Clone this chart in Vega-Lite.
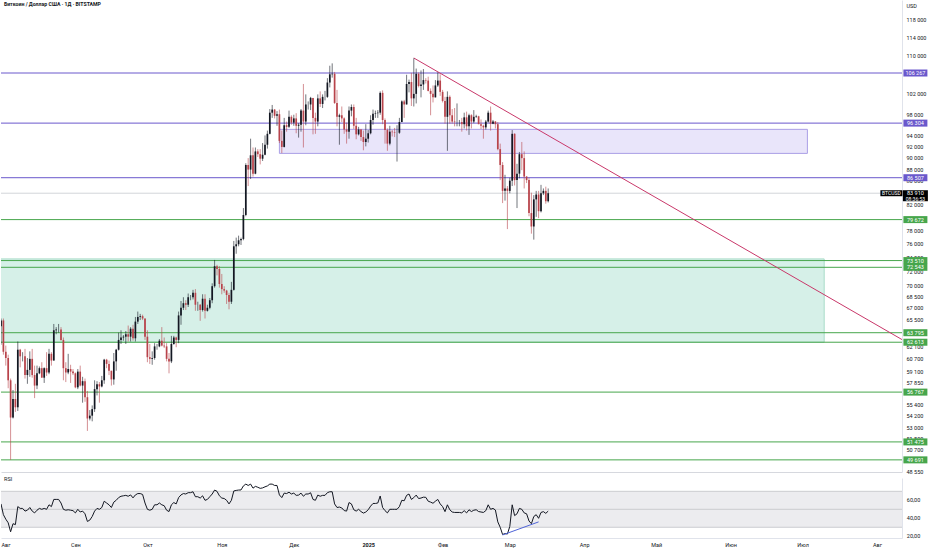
{
"$schema":"https://vega.github.io/schema/vega-lite/v6.json",
"padding":0,
"spacing":0,
"background":"#ffffff",
"config":{"font":"Roboto","view":{"stroke":null},"axis":{"labelOverlap":false},"locale":{"number":{"decimal":",","thousands":" ","grouping":[3],"currency":["","$"]}}},
"resolve":{"scale":{"x":"independent","y":"independent","color":"independent"}},
"datasets":{
"zones":[{"x1":"2024-11-25","x2":"2025-07-03","p1":90740,"p2":95130,"k":"purple"},{"x1":"2024-07-01","x2":"2025-07-10","p1":62613,"p2":73750,"k":"green"}],
"levels":[{"p":106267,"k":"purple"},{"p":96304,"k":"purple"},{"p":86507,"k":"purple"},{"p":79672,"k":"green"},{"p":73510,"k":"green"},{"p":72543,"k":"green"},{"p":63795,"k":"green"},{"p":62613,"k":"green"},{"p":56767,"k":"green"},{"p":51475,"k":"green"},{"p":49691,"k":"green"}],
"cur":[{"p":83910,"sym":"BTCUSD","t":"08:36:53"}],
"trend":[{"d":"2025-01-20","p":109450},{"d":"2025-08-11T10:00:00Z","p":62940}],
"div":[{"d":"2025-02-26","r":21.5},{"d":"2025-03-13","r":36}],
"band":[{"lo":30,"hi":70}],
"rsilines":[{"v":70},{"v":50},{"v":30}],
"rsiticks":[{"v":60},{"v":40},{"v":20}],
"candles":[
{"d":"2024-08-01","o":64600,"h":65600,"l":62300,"c":65350,"r":56},
{"d":"2024-08-02","o":65350,"h":65600,"l":61100,"c":61450,"r":44},
{"d":"2024-08-03","o":61450,"h":62200,"l":59800,"c":60700,"r":39},
{"d":"2024-08-04","o":60700,"h":61100,"l":57200,"c":58100,"r":35},
{"d":"2024-08-05","o":58100,"h":58300,"l":49700,"c":54000,"r":25},
{"d":"2024-08-06","o":54000,"h":57000,"l":53900,"c":56000,"r":34},
{"d":"2024-08-07","o":56000,"h":57700,"l":54600,"c":55100,"r":33},
{"d":"2024-08-08","o":55100,"h":62700,"l":54700,"c":61700,"r":53},
{"d":"2024-08-09","o":61700,"h":61800,"l":59600,"c":60900,"r":51},
{"d":"2024-08-10","o":60900,"h":61400,"l":60300,"c":60900,"r":51},
{"d":"2024-08-11","o":60900,"h":61800,"l":58300,"c":58700,"r":48},
{"d":"2024-08-12","o":58700,"h":60700,"l":57700,"c":59300,"r":49},
{"d":"2024-08-13","o":59300,"h":61500,"l":58500,"c":60600,"r":52},
{"d":"2024-08-14","o":60600,"h":61800,"l":58400,"c":58700,"r":48},
{"d":"2024-08-15","o":58700,"h":59800,"l":56100,"c":57500,"r":46},
{"d":"2024-08-16","o":57500,"h":59800,"l":57100,"c":58900,"r":49},
{"d":"2024-08-17","o":58900,"h":59700,"l":58800,"c":59500,"r":51},
{"d":"2024-08-18","o":59500,"h":60200,"l":58400,"c":58400,"r":50},
{"d":"2024-08-19","o":58400,"h":59600,"l":57800,"c":59500,"r":51},
{"d":"2024-08-20","o":59500,"h":61400,"l":58600,"c":59000,"r":50},
{"d":"2024-08-21","o":59000,"h":61800,"l":58800,"c":61200,"r":55},
{"d":"2024-08-22","o":61200,"h":61400,"l":59800,"c":60400,"r":53},
{"d":"2024-08-23","o":60400,"h":64900,"l":60400,"c":64100,"r":61},
{"d":"2024-08-24","o":64100,"h":64500,"l":63600,"c":64200,"r":61},
{"d":"2024-08-25","o":64200,"h":64900,"l":63800,"c":64200,"r":61},
{"d":"2024-08-26","o":64200,"h":64500,"l":62800,"c":62900,"r":57},
{"d":"2024-08-27","o":62900,"h":63200,"l":58100,"c":59500,"r":50},
{"d":"2024-08-28","o":59500,"h":60200,"l":57900,"c":59000,"r":49},
{"d":"2024-08-29","o":59000,"h":61200,"l":58800,"c":59400,"r":49.5},
{"d":"2024-08-30","o":59400,"h":59900,"l":57800,"c":59100,"r":49},
{"d":"2024-08-31","o":59100,"h":59400,"l":58700,"c":58900,"r":48.5},
{"d":"2024-09-01","o":58900,"h":59000,"l":57200,"c":57300,"r":46},
{"d":"2024-09-02","o":57300,"h":59400,"l":57100,"c":59100,"r":50},
{"d":"2024-09-03","o":59100,"h":59800,"l":57400,"c":57500,"r":47},
{"d":"2024-09-04","o":57500,"h":58500,"l":55600,"c":58000,"r":48},
{"d":"2024-09-05","o":58000,"h":58300,"l":55700,"c":56200,"r":45},
{"d":"2024-09-06","o":56200,"h":56900,"l":52600,"c":53900,"r":36.5},
{"d":"2024-09-07","o":53900,"h":54800,"l":53700,"c":54200,"r":38},
{"d":"2024-09-08","o":54200,"h":55300,"l":53600,"c":54900,"r":42},
{"d":"2024-09-09","o":54900,"h":58100,"l":54600,"c":57100,"r":48},
{"d":"2024-09-10","o":57100,"h":58000,"l":56400,"c":57650,"r":51},
{"d":"2024-09-11","o":57650,"h":57900,"l":55600,"c":57400,"r":50},
{"d":"2024-09-12","o":57400,"h":58600,"l":57300,"c":58100,"r":52},
{"d":"2024-09-13","o":58100,"h":60600,"l":57700,"c":60500,"r":59},
{"d":"2024-09-14","o":60500,"h":60600,"l":59500,"c":60000,"r":57},
{"d":"2024-09-15","o":60000,"h":60400,"l":58700,"c":59200,"r":55},
{"d":"2024-09-16","o":59200,"h":59200,"l":57500,"c":58200,"r":52},
{"d":"2024-09-17","o":58200,"h":61300,"l":57600,"c":60300,"r":58},
{"d":"2024-09-18","o":60300,"h":61800,"l":59200,"c":61700,"r":60},
{"d":"2024-09-19","o":61700,"h":63800,"l":61600,"c":62900,"r":63},
{"d":"2024-09-20","o":62900,"h":64100,"l":62400,"c":63200,"r":64.5},
{"d":"2024-09-21","o":63200,"h":63500,"l":62800,"c":63300,"r":65},
{"d":"2024-09-22","o":63300,"h":64000,"l":62400,"c":63600,"r":65.5},
{"d":"2024-09-23","o":63600,"h":64700,"l":62700,"c":63300,"r":64.5},
{"d":"2024-09-24","o":63300,"h":64500,"l":62700,"c":64300,"r":66},
{"d":"2024-09-25","o":64300,"h":64800,"l":62800,"c":63100,"r":62.7},
{"d":"2024-09-26","o":63100,"h":65800,"l":62700,"c":65200,"r":66},
{"d":"2024-09-27","o":65200,"h":66500,"l":64900,"c":65800,"r":67.5},
{"d":"2024-09-28","o":65800,"h":66200,"l":65400,"c":65900,"r":67.5},
{"d":"2024-09-29","o":65900,"h":66100,"l":65400,"c":65600,"r":66.5},
{"d":"2024-09-30","o":65600,"h":65600,"l":62900,"c":63300,"r":57},
{"d":"2024-10-01","o":63300,"h":64100,"l":60200,"c":60800,"r":50},
{"d":"2024-10-02","o":60800,"h":62400,"l":60000,"c":60600,"r":49},
{"d":"2024-10-03","o":60600,"h":61500,"l":59900,"c":60700,"r":50},
{"d":"2024-10-04","o":60700,"h":62500,"l":60500,"c":62100,"r":55},
{"d":"2024-10-05","o":62100,"h":62400,"l":61700,"c":62100,"r":55},
{"d":"2024-10-06","o":62100,"h":63000,"l":62000,"c":62800,"r":57},
{"d":"2024-10-07","o":62800,"h":64500,"l":62100,"c":62200,"r":55},
{"d":"2024-10-08","o":62200,"h":63200,"l":61900,"c":62100,"r":54},
{"d":"2024-10-09","o":62100,"h":62500,"l":60300,"c":60600,"r":49},
{"d":"2024-10-10","o":60600,"h":61300,"l":58900,"c":60300,"r":47.5},
{"d":"2024-10-11","o":60300,"h":63400,"l":60100,"c":62400,"r":55},
{"d":"2024-10-12","o":62400,"h":63400,"l":62300,"c":63200,"r":57.5},
{"d":"2024-10-13","o":63200,"h":63300,"l":62000,"c":62900,"r":56},
{"d":"2024-10-14","o":62900,"h":66500,"l":62500,"c":66000,"r":63},
{"d":"2024-10-15","o":66000,"h":67900,"l":64800,"c":67000,"r":66},
{"d":"2024-10-16","o":67000,"h":68400,"l":66700,"c":67600,"r":67.5},
{"d":"2024-10-17","o":67600,"h":68000,"l":66700,"c":67400,"r":67},
{"d":"2024-10-18","o":67400,"h":68900,"l":67100,"c":68400,"r":68.5},
{"d":"2024-10-19","o":68400,"h":68700,"l":68000,"c":68400,"r":68.5},
{"d":"2024-10-20","o":68400,"h":69400,"l":68100,"c":69000,"r":69.5},
{"d":"2024-10-21","o":69000,"h":69500,"l":66600,"c":67400,"r":64},
{"d":"2024-10-22","o":67400,"h":67800,"l":66600,"c":67400,"r":64},
{"d":"2024-10-23","o":67400,"h":67500,"l":65300,"c":66700,"r":62.5},
{"d":"2024-10-24","o":66700,"h":68800,"l":66500,"c":68200,"r":65},
{"d":"2024-10-25","o":68200,"h":68800,"l":65600,"c":66600,"r":60},
{"d":"2024-10-26","o":66600,"h":67400,"l":66500,"c":67000,"r":61},
{"d":"2024-10-27","o":67000,"h":68300,"l":66800,"c":68000,"r":64},
{"d":"2024-10-28","o":68000,"h":70300,"l":67600,"c":69900,"r":67},
{"d":"2024-10-29","o":69900,"h":73600,"l":69700,"c":72700,"r":71.4},
{"d":"2024-10-30","o":72700,"h":72900,"l":71400,"c":72300,"r":70},
{"d":"2024-10-31","o":72300,"h":72700,"l":69700,"c":70200,"r":65},
{"d":"2024-11-01","o":70200,"h":71600,"l":68800,"c":69500,"r":62.5},
{"d":"2024-11-02","o":69500,"h":69900,"l":69000,"c":69300,"r":62},
{"d":"2024-11-03","o":69300,"h":69400,"l":67500,"c":68700,"r":60},
{"d":"2024-11-04","o":68700,"h":69000,"l":66800,"c":67800,"r":56},
{"d":"2024-11-05","o":67800,"h":70500,"l":67500,"c":69400,"r":60},
{"d":"2024-11-06","o":69400,"h":76400,"l":69300,"c":75600,"r":70.4},
{"d":"2024-11-07","o":75600,"h":76900,"l":74500,"c":75900,"r":71},
{"d":"2024-11-08","o":75900,"h":77200,"l":75600,"c":76500,"r":71.4},
{"d":"2024-11-09","o":76500,"h":76900,"l":75800,"c":76700,"r":71.5},
{"d":"2024-11-10","o":76700,"h":81500,"l":76500,"c":80400,"r":76},
{"d":"2024-11-11","o":80400,"h":89000,"l":80200,"c":88700,"r":78},
{"d":"2024-11-12","o":88700,"h":89900,"l":85100,"c":87900,"r":76.5},
{"d":"2024-11-13","o":87900,"h":93400,"l":86300,"c":90400,"r":78},
{"d":"2024-11-14","o":90400,"h":91800,"l":86700,"c":87200,"r":73.5},
{"d":"2024-11-15","o":87200,"h":91800,"l":87100,"c":91100,"r":75.5},
{"d":"2024-11-16","o":91100,"h":91500,"l":90100,"c":90600,"r":74.5},
{"d":"2024-11-17","o":90600,"h":91500,"l":88800,"c":89800,"r":73.3},
{"d":"2024-11-18","o":89800,"h":92600,"l":89400,"c":90500,"r":73.8},
{"d":"2024-11-19","o":90500,"h":94000,"l":90400,"c":92300,"r":75},
{"d":"2024-11-20","o":92300,"h":94900,"l":91600,"c":94300,"r":76},
{"d":"2024-11-21","o":94300,"h":99000,"l":94200,"c":98300,"r":78},
{"d":"2024-11-22","o":98300,"h":99800,"l":97300,"c":98900,"r":78},
{"d":"2024-11-23","o":98900,"h":99000,"l":97200,"c":97700,"r":76.5},
{"d":"2024-11-24","o":97700,"h":98600,"l":95800,"c":98000,"r":76.5},
{"d":"2024-11-25","o":98000,"h":98900,"l":92600,"c":93000,"r":66},
{"d":"2024-11-26","o":93000,"h":94900,"l":90800,"c":91900,"r":63},
{"d":"2024-11-27","o":91900,"h":97300,"l":91800,"c":95900,"r":68},
{"d":"2024-11-28","o":95900,"h":96600,"l":94700,"c":95600,"r":67.5},
{"d":"2024-11-29","o":95600,"h":98700,"l":95400,"c":97500,"r":69},
{"d":"2024-11-30","o":97500,"h":97800,"l":96000,"c":96400,"r":67},
{"d":"2024-12-01","o":96400,"h":97900,"l":95800,"c":97200,"r":68},
{"d":"2024-12-02","o":97200,"h":98200,"l":94400,"c":95800,"r":65.5},
{"d":"2024-12-03","o":95800,"h":96300,"l":93600,"c":96000,"r":65.8},
{"d":"2024-12-04","o":96000,"h":99000,"l":94700,"c":98700,"r":68},
{"d":"2024-12-05","o":98700,"h":104000,"l":91800,"c":96600,"r":64.5},
{"d":"2024-12-06","o":96600,"h":101900,"l":95900,"c":99900,"r":67},
{"d":"2024-12-07","o":99900,"h":100500,"l":98900,"c":99900,"r":67},
{"d":"2024-12-08","o":99900,"h":101400,"l":98800,"c":101200,"r":68.4},
{"d":"2024-12-09","o":101200,"h":101200,"l":94200,"c":97300,"r":61},
{"d":"2024-12-10","o":97300,"h":98300,"l":94300,"c":96600,"r":60},
{"d":"2024-12-11","o":96600,"h":101900,"l":95700,"c":101100,"r":65.8},
{"d":"2024-12-12","o":101100,"h":102500,"l":99400,"c":100000,"r":64.5},
{"d":"2024-12-13","o":100000,"h":101900,"l":99200,"c":101400,"r":65.5},
{"d":"2024-12-14","o":101400,"h":102600,"l":100700,"c":101400,"r":65.5},
{"d":"2024-12-15","o":101400,"h":105200,"l":101200,"c":104300,"r":68.5},
{"d":"2024-12-16","o":104300,"h":107800,"l":103300,"c":106000,"r":69.5},
{"d":"2024-12-17","o":106000,"h":108300,"l":105300,"c":106100,"r":69.5},
{"d":"2024-12-18","o":106100,"h":106500,"l":100000,"c":100200,"r":56},
{"d":"2024-12-19","o":100200,"h":102800,"l":95700,"c":97500,"r":52},
{"d":"2024-12-20","o":97500,"h":98100,"l":92300,"c":97800,"r":52.5},
{"d":"2024-12-21","o":97800,"h":99500,"l":96500,"c":97200,"r":51.5},
{"d":"2024-12-22","o":97200,"h":97400,"l":94300,"c":95100,"r":48.6},
{"d":"2024-12-23","o":95100,"h":96400,"l":92500,"c":94700,"r":48},
{"d":"2024-12-24","o":94700,"h":99500,"l":93400,"c":98700,"r":57.5},
{"d":"2024-12-25","o":98700,"h":99900,"l":97600,"c":99400,"r":56},
{"d":"2024-12-26","o":99400,"h":99900,"l":95200,"c":95800,"r":49.5},
{"d":"2024-12-27","o":95800,"h":97300,"l":93300,"c":94200,"r":48},
{"d":"2024-12-28","o":94200,"h":95600,"l":94000,"c":95100,"r":50},
{"d":"2024-12-29","o":95100,"h":95200,"l":93000,"c":93700,"r":47.5},
{"d":"2024-12-30","o":93700,"h":94900,"l":91300,"c":92800,"r":45.8},
{"d":"2024-12-31","o":92800,"h":96100,"l":92000,"c":93400,"r":47},
{"d":"2025-01-01","o":93400,"h":95000,"l":92700,"c":94400,"r":49.5},
{"d":"2025-01-02","o":94400,"h":97800,"l":94200,"c":96900,"r":53.5},
{"d":"2025-01-03","o":96900,"h":98900,"l":96000,"c":98100,"r":56.5},
{"d":"2025-01-04","o":98100,"h":98700,"l":97300,"c":98200,"r":56.5},
{"d":"2025-01-05","o":98200,"h":98800,"l":97300,"c":98300,"r":57},
{"d":"2025-01-06","o":98300,"h":102500,"l":97900,"c":102200,"r":64.8},
{"d":"2025-01-07","o":102200,"h":102700,"l":96100,"c":96900,"r":52},
{"d":"2025-01-08","o":96900,"h":97200,"l":92500,"c":95000,"r":48.5},
{"d":"2025-01-09","o":95000,"h":95300,"l":91200,"c":92500,"r":46},
{"d":"2025-01-10","o":92500,"h":95800,"l":92200,"c":94700,"r":50},
{"d":"2025-01-11","o":94700,"h":95000,"l":93800,"c":94600,"r":50},
{"d":"2025-01-12","o":94600,"h":95400,"l":93700,"c":94500,"r":50},
{"d":"2025-01-13","o":94500,"h":95900,"l":89300,"c":94500,"r":50},
{"d":"2025-01-14","o":94500,"h":97300,"l":94300,"c":96500,"r":53},
{"d":"2025-01-15","o":96500,"h":100700,"l":96500,"c":100500,"r":60},
{"d":"2025-01-16","o":100500,"h":100800,"l":97300,"c":99900,"r":59.5},
{"d":"2025-01-17","o":99900,"h":105900,"l":99900,"c":104000,"r":65.5},
{"d":"2025-01-18","o":104000,"h":104900,"l":102300,"c":104400,"r":67},
{"d":"2025-01-19","o":104400,"h":106300,"l":99600,"c":101100,"r":61},
{"d":"2025-01-20","o":101100,"h":109400,"l":99500,"c":102000,"r":63},
{"d":"2025-01-21","o":102000,"h":107200,"l":100100,"c":106100,"r":65.8},
{"d":"2025-01-22","o":106100,"h":106400,"l":103300,"c":103600,"r":62},
{"d":"2025-01-23","o":103600,"h":106800,"l":101300,"c":103900,"r":62.5},
{"d":"2025-01-24","o":103900,"h":107100,"l":102800,"c":104800,"r":63.5},
{"d":"2025-01-25","o":104800,"h":105200,"l":104100,"c":104700,"r":63.3},
{"d":"2025-01-26","o":104700,"h":105500,"l":102500,"c":102600,"r":59},
{"d":"2025-01-27","o":102600,"h":103100,"l":97800,"c":102000,"r":58},
{"d":"2025-01-28","o":102000,"h":103700,"l":100300,"c":101300,"r":56.7},
{"d":"2025-01-29","o":101300,"h":104800,"l":101300,"c":103700,"r":59},
{"d":"2025-01-30","o":103700,"h":106400,"l":103400,"c":104700,"r":61},
{"d":"2025-01-31","o":104700,"h":106000,"l":101600,"c":102400,"r":56},
{"d":"2025-02-01","o":102400,"h":102800,"l":100300,"c":100600,"r":53},
{"d":"2025-02-02","o":100600,"h":101400,"l":96200,"c":97500,"r":47.4},
{"d":"2025-02-03","o":97500,"h":102500,"l":91200,"c":101400,"r":55},
{"d":"2025-02-04","o":101400,"h":101700,"l":96200,"c":97800,"r":49.5},
{"d":"2025-02-05","o":97800,"h":99000,"l":96200,"c":96600,"r":47},
{"d":"2025-02-06","o":96600,"h":99200,"l":95700,"c":96500,"r":46.5},
{"d":"2025-02-07","o":96500,"h":100100,"l":95700,"c":96500,"r":46.5},
{"d":"2025-02-08","o":96500,"h":96900,"l":95700,"c":96500,"r":46.5},
{"d":"2025-02-09","o":96500,"h":97300,"l":94700,"c":96100,"r":46},
{"d":"2025-02-10","o":96100,"h":98300,"l":95300,"c":97400,"r":48.5},
{"d":"2025-02-11","o":97400,"h":98500,"l":94900,"c":95700,"r":46},
{"d":"2025-02-12","o":95700,"h":98100,"l":94100,"c":97800,"r":49.5},
{"d":"2025-02-13","o":97800,"h":98000,"l":95300,"c":96600,"r":47.5},
{"d":"2025-02-14","o":96600,"h":98800,"l":96300,"c":97500,"r":49},
{"d":"2025-02-15","o":97500,"h":97900,"l":97300,"c":97600,"r":49.5},
{"d":"2025-02-16","o":97600,"h":97700,"l":96100,"c":96100,"r":47.5},
{"d":"2025-02-17","o":96100,"h":97000,"l":95200,"c":95800,"r":47},
{"d":"2025-02-18","o":95800,"h":96000,"l":93400,"c":95500,"r":46.5},
{"d":"2025-02-19","o":95500,"h":96900,"l":95100,"c":96600,"r":48.5},
{"d":"2025-02-20","o":96600,"h":98700,"l":96400,"c":98300,"r":55},
{"d":"2025-02-21","o":98300,"h":99500,"l":94900,"c":96200,"r":50},
{"d":"2025-02-22","o":96200,"h":96900,"l":96100,"c":96600,"r":51},
{"d":"2025-02-23","o":96600,"h":96700,"l":95300,"c":96100,"r":49.2},
{"d":"2025-02-24","o":96100,"h":96500,"l":91300,"c":91500,"r":36},
{"d":"2025-02-25","o":91500,"h":92500,"l":86100,"c":88700,"r":30},
{"d":"2025-02-26","o":88700,"h":89200,"l":82300,"c":84300,"r":22},
{"d":"2025-02-27","o":84300,"h":87000,"l":82700,"c":84700,"r":23},
{"d":"2025-02-28","o":84700,"h":85100,"l":78200,"c":84300,"r":22.5},
{"d":"2025-03-01","o":84300,"h":86500,"l":83900,"c":86000,"r":31},
{"d":"2025-03-02","o":86000,"h":95000,"l":85100,"c":94300,"r":55},
{"d":"2025-03-03","o":94300,"h":94400,"l":85200,"c":86100,"r":43},
{"d":"2025-03-04","o":86100,"h":88900,"l":81500,"c":87200,"r":45},
{"d":"2025-03-05","o":87200,"h":91000,"l":86400,"c":90600,"r":51},
{"d":"2025-03-06","o":90600,"h":92800,"l":87800,"c":89900,"r":50},
{"d":"2025-03-07","o":89900,"h":91100,"l":84700,"c":86700,"r":46},
{"d":"2025-03-08","o":86700,"h":86800,"l":85600,"c":86100,"r":45},
{"d":"2025-03-09","o":86100,"h":86500,"l":80200,"c":80700,"r":37},
{"d":"2025-03-10","o":80700,"h":84000,"l":77500,"c":78600,"r":34},
{"d":"2025-03-11","o":78600,"h":83600,"l":76600,"c":82900,"r":42},
{"d":"2025-03-12","o":82900,"h":84300,"l":80100,"c":83700,"r":44},
{"d":"2025-03-13","o":83700,"h":84300,"l":79900,"c":81000,"r":40},
{"d":"2025-03-14","o":81000,"h":85300,"l":80800,"c":83900,"r":46.5},
{"d":"2025-03-15","o":83900,"h":84700,"l":83600,"c":84300,"r":47.4},
{"d":"2025-03-16","o":84300,"h":85000,"l":82200,"c":82600,"r":45.5},
{"d":"2025-03-17","o":82600,"h":84700,"l":82400,"c":83910,"r":48}
]
},
"vconcat":[
{
"width":901,"height":472,
"title":{"text":"Биткоин / Доллар США · 1Д · BITSTAMP","anchor":"start","frame":"group","offset":-9,"baseline":"middle","fontSize":5.2,"fontWeight":"bold","color":"#131722","dx":3},
"layer":[
{"data":{"name":"zones"},"mark":{"type":"rect","strokeWidth":1,"clip":true},
"encoding":{
"x":{"field":"x1","type":"temporal","scale":{"type":"utc","domain":[{"year":2024,"month":8,"date":1,"utc":true},{"year":2025,"month":8,"date":11,"hours":10,"utc":true}]},"axis":{"orient":"bottom","labels":false,"ticks":false,"domain":true,"domainColor":"#d6d8de","grid":false,"title":null}},
"x2":{"field":"x2"},
"y":{"field":"p1","type":"quantitative","scale":{"type":"log","domain":[48520,122660],"nice":false},"axis":{"orient":"right","values":[118000,114000,110000,102000,98000,94000,92000,90000,88000,86000,82000,78000,76000,74000,72000,70000,68500,67000,65500,62100,60700,59100,57850,55400,54200,53000,51800,50700,48550],"format":",","labelFontSize":5.5,"labelColor":"#131722","labelPadding":4,"labelOverlap":false,"ticks":false,"domain":true,"domainColor":"#e0e3eb","grid":false,"title":"USD","titleAngle":0,"titleAlign":"left","titleBaseline":"middle","titleX":4,"titleY":5,"titleFontSize":5.5,"titleFontWeight":"normal","titleColor":"#131722"}},
"y2":{"field":"p2"},
"fill":{"field":"k","type":"nominal","scale":{"domain":["purple","green"],"range":["#e9e5fa","#d6f0e8"]},"legend":null},
"stroke":{"field":"k","type":"nominal","scale":{"domain":["purple","green"],"range":["#ab9fe6","#a8dcc8"]},"legend":null}}},
{"data":{"name":"levels"},"mark":{"type":"rule","strokeWidth":1,"clip":true},
"encoding":{"y":{"field":"p","type":"quantitative","scale":{"type":"log","domain":[48520,122660],"nice":false}},
"color":{"field":"k","type":"nominal","scale":{"domain":["purple","green"],"range":["#6a58cc","#47a64c"]},"legend":null}}},
{"data":{"name":"cur"},"mark":{"type":"rule","color":"#c8cad0","strokeWidth":0.8,"clip":true},
"encoding":{"y":{"field":"p","type":"quantitative","scale":{"type":"log","domain":[48520,122660],"nice":false}}}},
{"data":{"name":"trend"},"mark":{"type":"line","color":"#c9386a","strokeWidth":1,"clip":true},
"encoding":{"x":{"field":"d","type":"temporal","scale":{"type":"utc","domain":[{"year":2024,"month":8,"date":1,"utc":true},{"year":2025,"month":8,"date":11,"hours":10,"utc":true}]}},
"y":{"field":"p","type":"quantitative","scale":{"type":"log","domain":[48520,122660],"nice":false}}}},
{"data":{"name":"candles"},"mark":{"type":"rule","strokeWidth":0.7,"opacity":0.85,"clip":true},
"encoding":{"x":{"field":"d","type":"temporal","scale":{"type":"utc","domain":[{"year":2024,"month":8,"date":1,"utc":true},{"year":2025,"month":8,"date":11,"hours":10,"utc":true}]}},
"y":{"field":"l","type":"quantitative","scale":{"type":"log","domain":[48520,122660],"nice":false}},
"y2":{"field":"h"},
"color":{"condition":{"test":"datum.c >= datum.o","value":"#131722"},"value":"#b8434b"}}},
{"data":{"name":"candles"},"mark":{"type":"rule","strokeWidth":1.7,"clip":true},
"encoding":{"x":{"field":"d","type":"temporal","scale":{"type":"utc","domain":[{"year":2024,"month":8,"date":1,"utc":true},{"year":2025,"month":8,"date":11,"hours":10,"utc":true}]}},
"y":{"field":"o","type":"quantitative","scale":{"type":"log","domain":[48520,122660],"nice":false}},
"y2":{"field":"c"},
"color":{"condition":{"test":"datum.c >= datum.o","value":"#131722"},"value":"#b8434b"}}},
{"data":{"name":"levels"},"mark":{"type":"tick","orient":"horizontal","size":24,"thickness":7,"opacity":1,"clip":false},
"encoding":{"x":{"datum":{"year":2025,"month":8,"date":17,"utc":true},"type":"temporal","scale":{"type":"utc","domain":[{"year":2024,"month":8,"date":1,"utc":true},{"year":2025,"month":8,"date":11,"hours":10,"utc":true}]}},
"y":{"field":"p","type":"quantitative","scale":{"type":"log","domain":[48520,122660],"nice":false}},
"color":{"field":"k","type":"nominal","scale":{"domain":["purple","green"],"range":["#6a58cc","#47a64c"]},"legend":null}}},
{"data":{"name":"levels"},"mark":{"type":"text","color":"#ffffff","fontSize":5.5,"align":"center","baseline":"middle","clip":false},
"encoding":{"x":{"datum":{"year":2025,"month":8,"date":17,"utc":true},"type":"temporal","scale":{"type":"utc","domain":[{"year":2024,"month":8,"date":1,"utc":true},{"year":2025,"month":8,"date":11,"hours":10,"utc":true}]}},
"y":{"field":"p","type":"quantitative","scale":{"type":"log","domain":[48520,122660],"nice":false}},
"text":{"field":"p","type":"quantitative","format":","}}},
{"data":{"name":"cur"},"mark":{"type":"tick","orient":"horizontal","size":25,"thickness":11,"yOffset":2.5,"opacity":1,"color":"#000000","clip":false},
"encoding":{"x":{"datum":{"year":2025,"month":8,"date":17,"utc":true},"type":"temporal","scale":{"type":"utc","domain":[{"year":2024,"month":8,"date":1,"utc":true},{"year":2025,"month":8,"date":11,"hours":10,"utc":true}]}},
"y":{"field":"p","type":"quantitative","scale":{"type":"log","domain":[48520,122660],"nice":false}}}},
{"data":{"name":"cur"},"mark":{"type":"tick","orient":"horizontal","size":22,"thickness":6,"opacity":1,"color":"#000000","clip":false},
"encoding":{"x":{"datum":{"year":2025,"month":8,"date":7,"utc":true},"type":"temporal","scale":{"type":"utc","domain":[{"year":2024,"month":8,"date":1,"utc":true},{"year":2025,"month":8,"date":11,"hours":10,"utc":true}]}},
"y":{"field":"p","type":"quantitative","scale":{"type":"log","domain":[48520,122660],"nice":false}}}},
{"data":{"name":"cur"},"mark":{"type":"text","color":"#ffffff","fontSize":5.5,"align":"center","baseline":"middle","clip":false},
"encoding":{"x":{"datum":{"year":2025,"month":8,"date":17,"utc":true},"type":"temporal","scale":{"type":"utc","domain":[{"year":2024,"month":8,"date":1,"utc":true},{"year":2025,"month":8,"date":11,"hours":10,"utc":true}]}},
"y":{"field":"p","type":"quantitative","scale":{"type":"log","domain":[48520,122660],"nice":false}},
"text":{"field":"p","type":"quantitative","format":","}}},
{"data":{"name":"cur"},"mark":{"type":"text","color":"#ffffff","fontSize":5,"align":"center","baseline":"middle","dy":5.5,"clip":false},
"encoding":{"x":{"datum":{"year":2025,"month":8,"date":17,"utc":true},"type":"temporal","scale":{"type":"utc","domain":[{"year":2024,"month":8,"date":1,"utc":true},{"year":2025,"month":8,"date":11,"hours":10,"utc":true}]}},
"y":{"field":"p","type":"quantitative","scale":{"type":"log","domain":[48520,122660],"nice":false}},
"text":{"field":"t","type":"nominal"}}},
{"data":{"name":"cur"},"mark":{"type":"text","color":"#ffffff","fontSize":5,"align":"center","baseline":"middle","clip":false},
"encoding":{"x":{"datum":{"year":2025,"month":8,"date":7,"utc":true},"type":"temporal","scale":{"type":"utc","domain":[{"year":2024,"month":8,"date":1,"utc":true},{"year":2025,"month":8,"date":11,"hours":10,"utc":true}]}},
"y":{"field":"p","type":"quantitative","scale":{"type":"log","domain":[48520,122660],"nice":false}},
"text":{"field":"sym","type":"nominal"}}}
]
},
{
"width":901,"height":60,
"title":{"text":"RSI","anchor":"start","frame":"group","offset":-6,"baseline":"middle","fontSize":5.5,"fontWeight":"normal","color":"#131722","dx":3},
"layer":[
{"data":{"name":"band"},"mark":{"type":"rect","color":"#ececef"},
"encoding":{"y":{"field":"lo","type":"quantitative","scale":{"domain":[18.1,84.8],"nice":false,"zero":false},"axis":{"orient":"right","labels":false,"ticks":false,"domain":true,"domainColor":"#e0e3eb","grid":false,"title":null}},"y2":{"field":"hi"}}},
{"data":{"name":"rsilines"},"mark":{"type":"rule","color":"#c2c3c7","strokeWidth":0.8},
"encoding":{"y":{"field":"v","type":"quantitative","scale":{"domain":[18.1,84.8],"nice":false,"zero":false}}}},
{"data":{"name":"rsiticks"},"mark":{"type":"text","color":"#131722","fontSize":5.5,"align":"left","baseline":"middle","dx":1,"clip":false},
"encoding":{"x":{"datum":{"year":2025,"month":8,"date":13,"utc":true},"type":"temporal","scale":{"type":"utc","domain":[{"year":2024,"month":8,"date":1,"utc":true},{"year":2025,"month":8,"date":11,"hours":10,"utc":true}]}},
"y":{"field":"v","type":"quantitative","scale":{"domain":[18.1,84.8],"nice":false,"zero":false}},
"text":{"field":"v","type":"quantitative","format":".2f"}}},
{"data":{"name":"candles"},"mark":{"type":"line","color":"#131722","strokeWidth":1,"clip":true},
"encoding":{"x":{"field":"d","type":"temporal","scale":{"type":"utc","domain":[{"year":2024,"month":8,"date":1,"utc":true},{"year":2025,"month":8,"date":11,"hours":10,"utc":true}]},"axis":{"orient":"bottom","values":[{"year":2024,"month":8,"date":1,"utc":true},{"year":2024,"month":9,"date":1,"utc":true},{"year":2024,"month":10,"date":1,"utc":true},{"year":2024,"month":11,"date":1,"utc":true},{"year":2024,"month":12,"date":1,"utc":true},{"year":2025,"month":1,"date":1,"utc":true},{"year":2025,"month":2,"date":1,"utc":true},{"year":2025,"month":3,"date":1,"utc":true},{"year":2025,"month":4,"date":1,"utc":true},{"year":2025,"month":5,"date":1,"utc":true},{"year":2025,"month":6,"date":1,"utc":true},{"year":2025,"month":7,"date":1,"utc":true},{"year":2025,"month":8,"date":1,"utc":true}],"labelExpr":"utcmonth(datum.value)==0 ? utcFormat(datum.value,'%Y') : ['Янв','Фев','Мар','Апр','Май','Июн','Июл','Авг','Сен','Окт','Ноя','Дек'][utcmonth(datum.value)]","labelFontSize":5.5,"labelColor":"#131722","labelPadding":4,"labelFlush":true,"labelOverlap":false,"labelFontWeight":{"condition":{"test":"utcmonth(datum.value)==0","value":"bold"},"value":"normal"},"ticks":false,"domain":true,"domainColor":"#e0e3eb","grid":false,"title":null}},
"y":{"field":"r","type":"quantitative","scale":{"domain":[18.1,84.8],"nice":false,"zero":false}}}},
{"data":{"name":"div"},"mark":{"type":"line","color":"#4f64d8","strokeWidth":1,"clip":true},
"encoding":{"x":{"field":"d","type":"temporal","scale":{"type":"utc","domain":[{"year":2024,"month":8,"date":1,"utc":true},{"year":2025,"month":8,"date":11,"hours":10,"utc":true}]}},
"y":{"field":"r","type":"quantitative","scale":{"domain":[18.1,84.8],"nice":false,"zero":false}}}}
]
}
]
}
